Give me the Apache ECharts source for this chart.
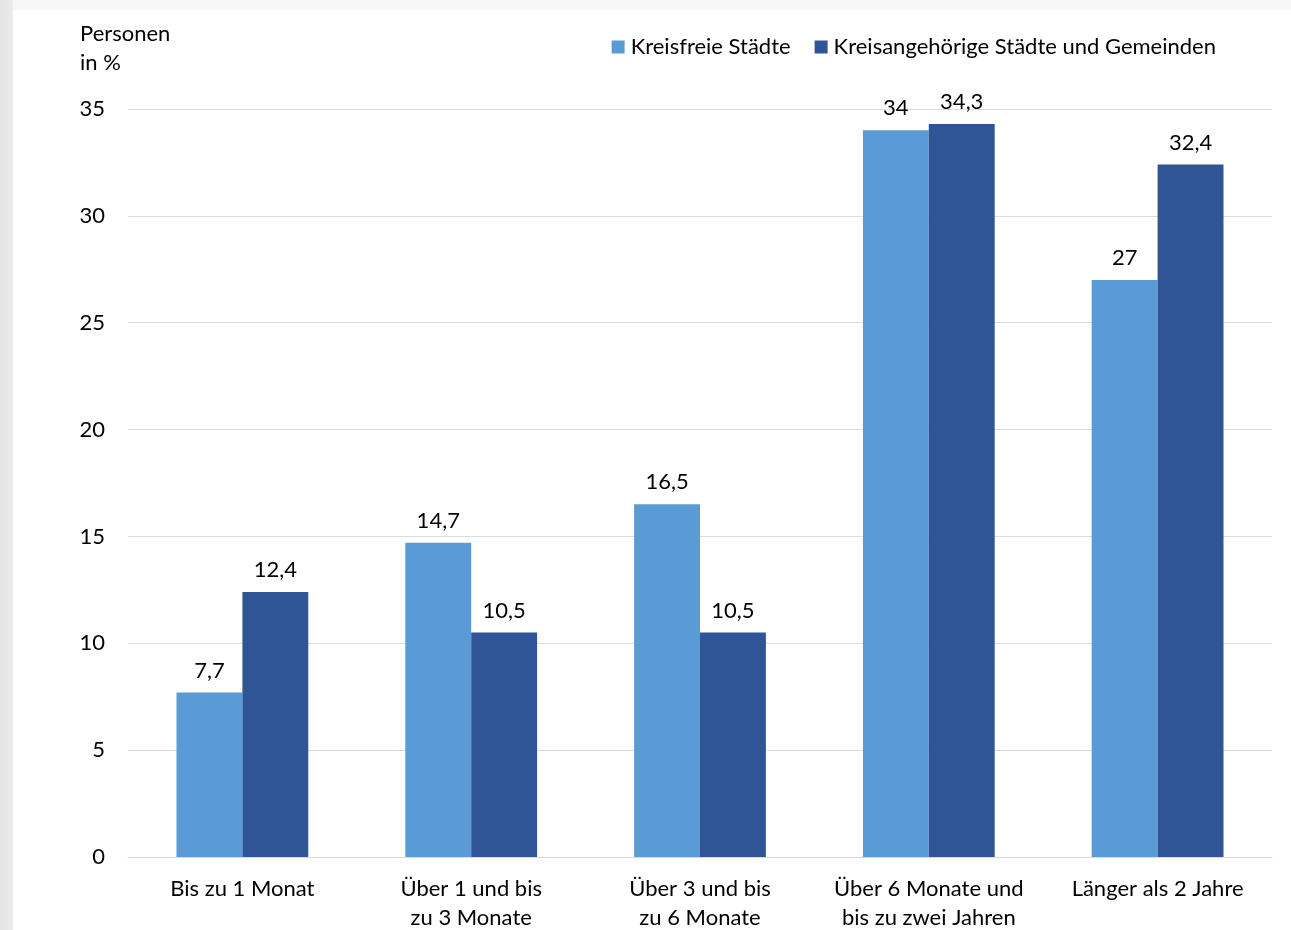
<!DOCTYPE html>
<html>
<head>
<meta charset="utf-8">
<script src="https://cdn.jsdelivr.net/npm/echarts@6/dist/echarts.min.js"></script>
<style>
  html, body { margin: 0; padding: 0; }
  body {
    width: 1291px; height: 930px; overflow: hidden;
    background:
      linear-gradient(to right, #e4e4e4 0, #ececec 13px, rgba(255,255,255,0) 13px),
      linear-gradient(to bottom, #f7f7f7 0, #f7f7f7 10px, #ffffff 10px);
  }
  #chart { width: 1291px; height: 930px; }
</style>
</head>
<body>
<div id="chart"></div>
<script>
  // Dauer – Anteil der Personen in %
  const categories = [
    'Bis zu 1 Monat',
    'Über 1 und bis\nzu 3 Monate',
    'Über 3 und bis\nzu 6 Monate',
    'Über 6 Monate und\nbis zu zwei Jahren',
    'Länger als 2 Jahre'
  ];
  const kreisfrei = [7.7, 14.7, 16.5, 34, 27];
  const kreisangehoerig = [12.4, 10.5, 10.5, 34.3, 32.4];
  const seriesNames = ['Kreisfreie Städte', 'Kreisangehörige Städte und Gemeinden'];

  const font = 'Lato, "Noto Sans", sans-serif';
  const fmt = p => String(p.value).replace('.', ',');

  let myChart = echarts.init(document.getElementById('chart'));

  var option = {
    textStyle: { fontFamily: font, color: '#000' },
    animation: false,
    legend: {
      top: 31,
      right: 70,
      icon: 'rect',
      itemWidth: 13,
      itemHeight: 13,
      itemGap: 24,
      itemStyle: { borderWidth: 0 },
      textStyle: { fontSize: 22, color: '#000', fontFamily: font, padding: [0, 0, 0, 1] },
      data: seriesNames
    },
    grid: {
      left: 128,
      right: 19,
      top: 109,
      bottom: 73,
      outerBoundsMode: 'none',
      containLabel: false
    },
    xAxis: {
      type: 'category',
      data: categories,
      axisTick: { show: false },
      axisLine: { lineStyle: { color: '#d9d9d9' } },
      axisLabel: {
        interval: 0,
        fontSize: 22,
        color: '#000',
        lineHeight: 29,
        margin: 17,
        fontFamily: font
      }
    },
    yAxis: {
      type: 'value',
      min: 0,
      max: 35,
      interval: 5,
      name: 'Personen\nin %',
      nameLocation: 'end',
      nameGap: 32,
      nameTextStyle: {
        align: 'left',
        fontSize: 22,
        lineHeight: 29,
        color: '#000',
        padding: [0, 0, 0, -48],
        fontFamily: font
      },
      axisLabel: { fontSize: 22, color: '#000', margin: 23, fontFamily: font },
      splitLine: { lineStyle: { color: '#dcdcdc' } }
    },
    series: [
      {
        name: seriesNames[0],
        type: 'bar',
        data: kreisfrei,
        barWidth: '28.8%',
        barGap: '0%',
        itemStyle: { color: '#5b9bd5' },
        label: { show: true, position: 'top', distance: 11, fontSize: 22, color: '#000', formatter: fmt, fontFamily: font }
      },
      {
        name: seriesNames[1],
        type: 'bar',
        data: kreisangehoerig,
        barWidth: '28.8%',
        itemStyle: { color: '#2f5597' },
        label: { show: true, position: 'top', distance: 11, fontSize: 22, color: '#000', formatter: fmt, fontFamily: font }
      }
    ]
  };

  myChart.setOption(option);
</script>
</body>
</html>
